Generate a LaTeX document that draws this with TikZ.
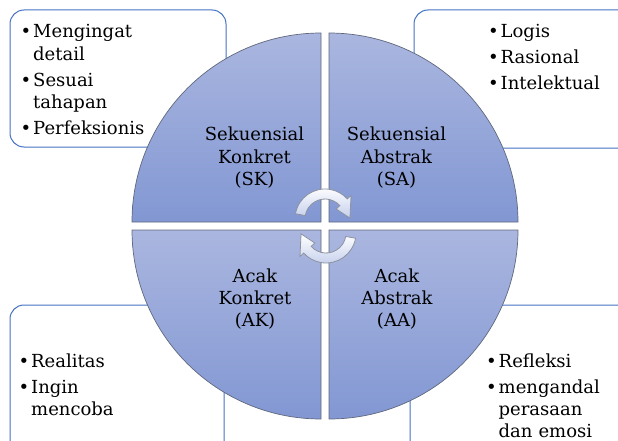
\documentclass[tikz,border=0pt]{standalone}
\usepackage{fontspec}
\setmainfont{DejaVu Serif}
\usepackage{tikz}
\definecolor{boxblue}{RGB}{68,114,196}
\definecolor{quadtop}{RGB}{170,182,223}
\definecolor{quadbot}{RGB}{130,151,211}
\definecolor{quadline}{RGB}{95,104,125}
\definecolor{arrowline}{RGB}{140,146,160}
\definecolor{arrowbot}{RGB}{196,207,236}
\tikzstyle{listbox} = [draw=boxblue, line width=1pt, fill=white, rounded corners=14pt]
\tikzstyle{quadrant} = [draw=quadline, line width=0.7pt, shading=axis, top color=quadtop, bottom color=quadbot]
\tikzstyle{turnarrow} = [draw=arrowline, line width=0.8pt, top color=white, bottom color=arrowbot]
\tikzstyle{quadtext} = [inner sep=0pt, anchor=north, align=center, font=\fontsize{18}{22.3}\selectfont]
\tikzstyle{bullets} = [inner sep=0pt, anchor=north west, text width=200pt, align=left, font=\fontsize{18}{22.3}\selectfont]
\newcommand{\bitem}[1]{\hangindent=12.5pt\hangafter=1\strut\makebox[12.5pt][l]{\textbullet}#1\par}

\begin{document}
\begin{tikzpicture}[x=1pt, y=-1pt]
	\useasboundingbox (0,0) rectangle (618,441);
	\clip (0,0) rectangle (618,441);
	% boxes behind the circle
	\draw[listbox] (10,10) rectangle (226,147);
	\draw[listbox] (414,10) rectangle (650,148);
	\draw[listbox] (10,305) rectangle (224,470);
	\draw[listbox] (410,305) rectangle (650,470);
	% four quarters
	\path[quadrant] (321,222) -- (132,222) arc[start angle=180, end angle=270, radius=189] -- cycle;
	\path[quadrant] (329,222) -- (329,33) arc[start angle=270, end angle=360, radius=189] -- cycle;
	\path[quadrant] (329,230) -- (518,230) arc[start angle=0, end angle=90, radius=189] -- cycle;
	\path[quadrant] (321,230) -- (321,419) arc[start angle=90, end angle=180, radius=189] -- cycle;
	% turning arrows
	\begin{scope}[shift={(325,219)}]
		\path[turnarrow] (190:30) arc[start angle=190, end angle=318, radius=30] -- (318:35) -- (358:25) -- (318:15) -- (318:20) arc[start angle=318, end angle=190, radius=20] -- cycle;
	\end{scope}
	\begin{scope}[shift={(326,233)}, rotate=180]
		\path[turnarrow] (190:30) arc[start angle=190, end angle=318, radius=30] -- (318:35) -- (358:25) -- (318:15) -- (318:20) arc[start angle=318, end angle=190, radius=20] -- cycle;
	\end{scope}
	% quarter labels
	\node[quadtext] (SK_TEXT) at (254.5,125) {\strut Sekuensial\\Konkret\\(SK)};
	\node[quadtext] (SA_TEXT) at (396.5,125) {\strut Sekuensial\\Abstrak\\(SA)};
	\node[quadtext] (AK_TEXT) at (255,266.4) {\strut Acak\\Konkret\\(AK)};
	\node[quadtext] (AA_TEXT) at (397,266.4) {\strut Acak\\Abstrak\\(AA)};
	% lists
	\node[bullets] (SK_LIST) at (20.5,22.1) {\setlength{\parskip}{3.7pt}%
		\bitem{Mengingat\newline detail}\bitem{Sesuai\newline tahapan}\bitem{Perfeksionis}};
	\node[bullets] (SA_LIST) at (488,21.4) {\setlength{\parskip}{3.7pt}%
		\bitem{Logis}\bitem{Rasional}\bitem{Intelektual}};
	\node[bullets] (AK_LIST) at (18.5,351.4) {\setlength{\parskip}{3.7pt}%
		\bitem{Realitas}\bitem{Ingin\newline mencoba}};
	\node[bullets] (AA_LIST) at (486,351.4) {\setlength{\parskip}{3.7pt}%
		\bitem{Refleksi}\bitem{mengandal\newline perasaan\newline dan emosi}};
\end{tikzpicture}
\end{document}
